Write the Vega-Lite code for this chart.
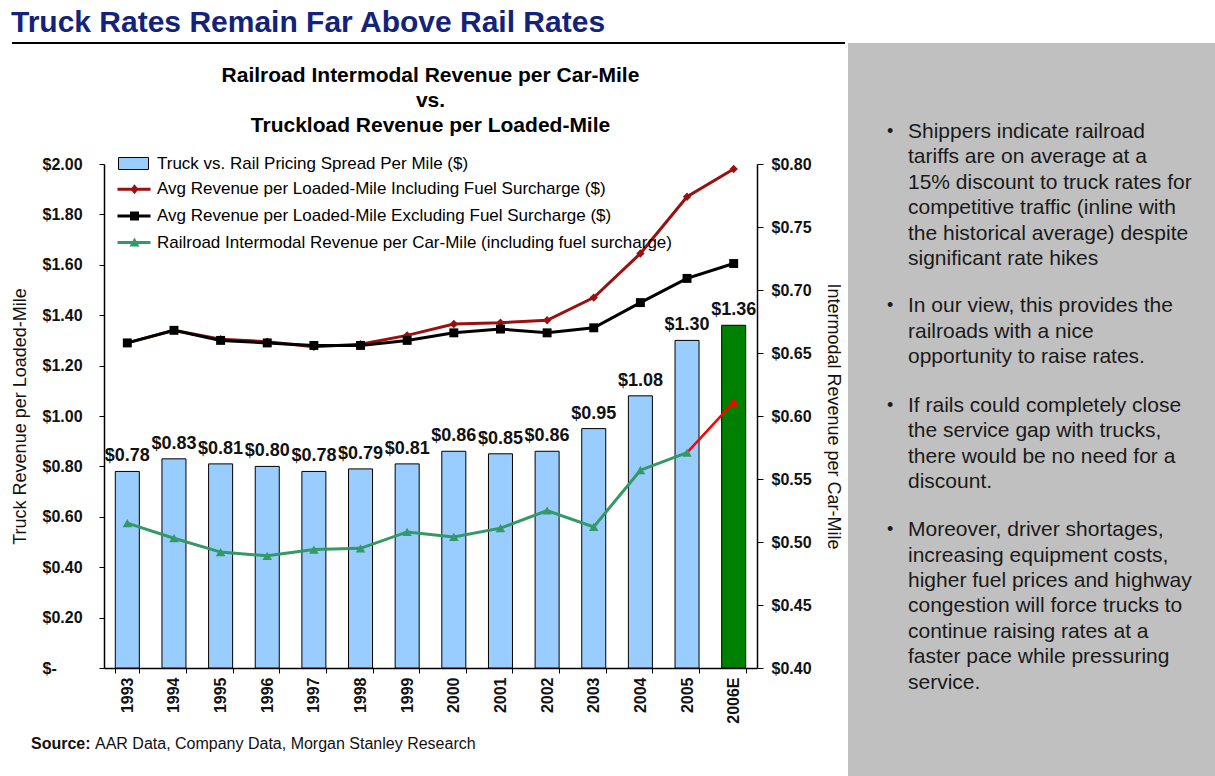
{
  "$schema": "https://vega.github.io/schema/vega-lite/v6.json",
  "padding": {"left": 10, "top": 8, "right": 0, "bottom": 0},
  "background": "white",
  "title": {"text": "Truck Rates Remain Far Above Rail Rates", "anchor": "start", "frame": "bounds", "fontSize": 30, "fontWeight": "bold", "color": "#13237A", "offset": 4},
  "spacing": 2,
  "resolve": {"scale": {"color": "independent", "shape": "independent", "fill": "independent"}},
  "config": {
    "font": "Liberation Sans",
    "view": {"stroke": null},
    "axis": {"domainColor": "#000", "tickColor": "#000", "labelColor": "#111", "titleColor": "#111", "grid": false},
    "legend": {"title": null, "orient": "none", "padding": 0, "labelFontSize": 17, "labelColor": "#000", "labelLimit": 700, "labelOffset": 25, "rowPadding": 8.7, "symbolSize": 100, "symbolOpacity": 1}
  },
  "datasets": {
    "rates": [
      {"year": "1993", "series": "Truck vs. Rail Pricing Spread Per Mile ($)", "value": 0.78},
      {"year": "1994", "series": "Truck vs. Rail Pricing Spread Per Mile ($)", "value": 0.83},
      {"year": "1995", "series": "Truck vs. Rail Pricing Spread Per Mile ($)", "value": 0.81},
      {"year": "1996", "series": "Truck vs. Rail Pricing Spread Per Mile ($)", "value": 0.80},
      {"year": "1997", "series": "Truck vs. Rail Pricing Spread Per Mile ($)", "value": 0.78},
      {"year": "1998", "series": "Truck vs. Rail Pricing Spread Per Mile ($)", "value": 0.79},
      {"year": "1999", "series": "Truck vs. Rail Pricing Spread Per Mile ($)", "value": 0.81},
      {"year": "2000", "series": "Truck vs. Rail Pricing Spread Per Mile ($)", "value": 0.86},
      {"year": "2001", "series": "Truck vs. Rail Pricing Spread Per Mile ($)", "value": 0.85},
      {"year": "2002", "series": "Truck vs. Rail Pricing Spread Per Mile ($)", "value": 0.86},
      {"year": "2003", "series": "Truck vs. Rail Pricing Spread Per Mile ($)", "value": 0.95},
      {"year": "2004", "series": "Truck vs. Rail Pricing Spread Per Mile ($)", "value": 1.08},
      {"year": "2005", "series": "Truck vs. Rail Pricing Spread Per Mile ($)", "value": 1.30},
      {"year": "2006E", "series": "Truck vs. Rail Pricing Spread Per Mile ($)", "value": 1.36},
      {"year": "1993", "series": "Avg Revenue per Loaded-Mile Including Fuel Surcharge ($)", "value": 1.29},
      {"year": "1994", "series": "Avg Revenue per Loaded-Mile Including Fuel Surcharge ($)", "value": 1.34},
      {"year": "1995", "series": "Avg Revenue per Loaded-Mile Including Fuel Surcharge ($)", "value": 1.305},
      {"year": "1996", "series": "Avg Revenue per Loaded-Mile Including Fuel Surcharge ($)", "value": 1.295},
      {"year": "1997", "series": "Avg Revenue per Loaded-Mile Including Fuel Surcharge ($)", "value": 1.275},
      {"year": "1998", "series": "Avg Revenue per Loaded-Mile Including Fuel Surcharge ($)", "value": 1.285},
      {"year": "1999", "series": "Avg Revenue per Loaded-Mile Including Fuel Surcharge ($)", "value": 1.32},
      {"year": "2000", "series": "Avg Revenue per Loaded-Mile Including Fuel Surcharge ($)", "value": 1.365},
      {"year": "2001", "series": "Avg Revenue per Loaded-Mile Including Fuel Surcharge ($)", "value": 1.37},
      {"year": "2002", "series": "Avg Revenue per Loaded-Mile Including Fuel Surcharge ($)", "value": 1.38},
      {"year": "2003", "series": "Avg Revenue per Loaded-Mile Including Fuel Surcharge ($)", "value": 1.47},
      {"year": "2004", "series": "Avg Revenue per Loaded-Mile Including Fuel Surcharge ($)", "value": 1.645},
      {"year": "2005", "series": "Avg Revenue per Loaded-Mile Including Fuel Surcharge ($)", "value": 1.87},
      {"year": "2006E", "series": "Avg Revenue per Loaded-Mile Including Fuel Surcharge ($)", "value": 1.98},
      {"year": "1993", "series": "Avg Revenue per Loaded-Mile Excluding Fuel Surcharge ($)", "value": 1.29},
      {"year": "1994", "series": "Avg Revenue per Loaded-Mile Excluding Fuel Surcharge ($)", "value": 1.34},
      {"year": "1995", "series": "Avg Revenue per Loaded-Mile Excluding Fuel Surcharge ($)", "value": 1.30},
      {"year": "1996", "series": "Avg Revenue per Loaded-Mile Excluding Fuel Surcharge ($)", "value": 1.29},
      {"year": "1997", "series": "Avg Revenue per Loaded-Mile Excluding Fuel Surcharge ($)", "value": 1.28},
      {"year": "1998", "series": "Avg Revenue per Loaded-Mile Excluding Fuel Surcharge ($)", "value": 1.28},
      {"year": "1999", "series": "Avg Revenue per Loaded-Mile Excluding Fuel Surcharge ($)", "value": 1.30},
      {"year": "2000", "series": "Avg Revenue per Loaded-Mile Excluding Fuel Surcharge ($)", "value": 1.33},
      {"year": "2001", "series": "Avg Revenue per Loaded-Mile Excluding Fuel Surcharge ($)", "value": 1.345},
      {"year": "2002", "series": "Avg Revenue per Loaded-Mile Excluding Fuel Surcharge ($)", "value": 1.33},
      {"year": "2003", "series": "Avg Revenue per Loaded-Mile Excluding Fuel Surcharge ($)", "value": 1.35},
      {"year": "2004", "series": "Avg Revenue per Loaded-Mile Excluding Fuel Surcharge ($)", "value": 1.45},
      {"year": "2005", "series": "Avg Revenue per Loaded-Mile Excluding Fuel Surcharge ($)", "value": 1.546},
      {"year": "2006E", "series": "Avg Revenue per Loaded-Mile Excluding Fuel Surcharge ($)", "value": 1.605},
      {"year": "1993", "series": "Railroad Intermodal Revenue per Car-Mile (including fuel surcharge)", "value": 0.515},
      {"year": "1994", "series": "Railroad Intermodal Revenue per Car-Mile (including fuel surcharge)", "value": 0.503},
      {"year": "1995", "series": "Railroad Intermodal Revenue per Car-Mile (including fuel surcharge)", "value": 0.492},
      {"year": "1996", "series": "Railroad Intermodal Revenue per Car-Mile (including fuel surcharge)", "value": 0.489},
      {"year": "1997", "series": "Railroad Intermodal Revenue per Car-Mile (including fuel surcharge)", "value": 0.494},
      {"year": "1998", "series": "Railroad Intermodal Revenue per Car-Mile (including fuel surcharge)", "value": 0.495},
      {"year": "1999", "series": "Railroad Intermodal Revenue per Car-Mile (including fuel surcharge)", "value": 0.508},
      {"year": "2000", "series": "Railroad Intermodal Revenue per Car-Mile (including fuel surcharge)", "value": 0.504},
      {"year": "2001", "series": "Railroad Intermodal Revenue per Car-Mile (including fuel surcharge)", "value": 0.511},
      {"year": "2002", "series": "Railroad Intermodal Revenue per Car-Mile (including fuel surcharge)", "value": 0.525},
      {"year": "2003", "series": "Railroad Intermodal Revenue per Car-Mile (including fuel surcharge)", "value": 0.512},
      {"year": "2004", "series": "Railroad Intermodal Revenue per Car-Mile (including fuel surcharge)", "value": 0.557},
      {"year": "2005", "series": "Railroad Intermodal Revenue per Car-Mile (including fuel surcharge)", "value": 0.571},
      {"year": "2006E", "series": "Railroad Intermodal Revenue per Car-Mile (including fuel surcharge)", "value": 0.611}
    ],
    "bullets": [
      {"startLine": 0, "text": "Shippers indicate railroad\ntariffs are on average at a\n15% discount to truck rates for\ncompetitive traffic (inline with\nthe historical average) despite\nsignificant rate hikes"},
      {"startLine": 7, "text": "In our view, this provides the\nrailroads with a nice\nopportunity to raise rates."},
      {"startLine": 11, "text": "If rails could completely close\nthe service gap with trucks,\nthere would be no need for a\ndiscount."},
      {"startLine": 16, "text": "Moreover, driver shortages,\nincreasing equipment costs,\nhigher fuel prices and highway\ncongestion will force trucks to\ncontinue raising rates at a\nfaster pace while pressuring\nservice."}
    ],
    "source": [
      {"label": "Source:", "text": "AAR Data, Company Data, Morgan Stanley Research"}
    ],
    "rule": [
      {"part": "title underline"}
    ]
  },
  "hconcat": [
    {
      "spacing": 0,
      "resolve": {"scale": {"color": "independent", "shape": "independent", "fill": "independent"}},
      "vconcat": [
        {
          "width": 741,
          "height": 22,
          "data": {"name": "rule"},
          "mark": {"type": "rule", "strokeWidth": 2, "color": "#000"},
          "encoding": {
            "x": {"datum": -0.1242, "type": "quantitative", "scale": {"domain": [0, 1], "nice": false, "zero": false}, "axis": null},
            "x2": {"datum": 1},
            "y": {"datum": 1, "type": "quantitative", "scale": {"domain": [0, 1]}, "axis": null}
          }
        },
        {
          "width": 653,
          "height": 504,
          "title": {"text": ["Railroad Intermodal Revenue per Car-Mile", "vs.", "Truckload Revenue per Loaded-Mile"], "fontSize": 21, "fontWeight": "bold", "lineHeight": 25, "anchor": "middle", "offset": 19, "color": "#000"},
          "data": {"name": "rates"},
          "encoding": {
            "x": {
              "field": "year", "type": "ordinal",
              "scale": {"paddingInner": 0.485, "paddingOuter": 0.2425},
              "axis": {"title": null, "labelAngle": -90, "labelFontSize": 16, "labelFontWeight": "bold", "tickBand": "extent", "tickSize": 5, "labelPadding": 4, "domainWidth": 1.5}
            }
          },
          "layer": [
            {
              "encoding": {
                "y": {
                  "field": "value", "type": "quantitative",
                  "scale": {"domain": [0, 2], "nice": false},
                  "axis": {"orient": "left", "values": [0, 0.2, 0.4, 0.6, 0.8, 1, 1.2, 1.4, 1.6, 1.8, 2], "labelExpr": "datum.value === 0 ? '$-' : format(datum.value, '$.2f')", "labelAlign": "left", "labelPadding": 57, "tickSize": 5, "minExtent": 62, "maxExtent": 62, "labelFontSize": 16, "labelFontWeight": "bold", "title": "Truck Revenue per Loaded-Mile", "titleFontSize": 18, "titleFontWeight": "normal", "titlePadding": 13, "domainWidth": 1.5}
                }
              },
              "layer": [
                {
                  "transform": [{"filter": {"field": "series", "equal": "Truck vs. Rail Pricing Spread Per Mile ($)"}}],
                  "mark": {"type": "bar", "stroke": "#000", "strokeWidth": 1},
                  "encoding": {
                    "fill": {
                      "condition": {"test": "datum.year === '2006E'", "value": "#008000"},
                      "field": "series", "type": "nominal",
                      "scale": {"domain": ["Truck vs. Rail Pricing Spread Per Mile ($)"], "range": ["#99CCFF"]},
                      "legend": {"legendX": 11, "legendY": -9, "symbolType": "M-1,-1.2H5V1.2H-1Z", "symbolStrokeColor": "#000", "symbolStrokeWidth": 1}
                    }
                  }
                },
                {
                  "transform": [{"filter": {"field": "series", "equal": "Truck vs. Rail Pricing Spread Per Mile ($)"}}],
                  "mark": {"type": "text", "baseline": "alphabetic", "dy": -10, "fontSize": 18, "fontWeight": "bold", "color": "#111"},
                  "encoding": {"text": {"field": "value", "type": "quantitative", "format": "$.2f"}}
                },
                {
                  "transform": [{"filter": {"field": "series", "equal": "Avg Revenue per Loaded-Mile Including Fuel Surcharge ($)"}}],
                  "mark": {"type": "line", "strokeWidth": 3, "color": "#9A1010"}
                },
                {
                  "transform": [{"filter": {"field": "series", "equal": "Avg Revenue per Loaded-Mile Excluding Fuel Surcharge ($)"}}],
                  "mark": {"type": "line", "strokeWidth": 3, "color": "#000000"}
                },
                {
                  "transform": [{"filter": {"field": "series", "equal": "Avg Revenue per Loaded-Mile Including Fuel Surcharge ($)"}}],
                  "mark": {"type": "point", "shape": "diamond", "filled": true, "opacity": 1, "size": 70, "color": "#9A1010"}
                },
                {
                  "transform": [{"filter": {"field": "series", "equal": "Avg Revenue per Loaded-Mile Excluding Fuel Surcharge ($)"}}],
                  "mark": {"type": "point", "shape": "square", "filled": true, "opacity": 1, "size": 80, "color": "#000000"}
                },
                {
                  "transform": [{"filter": {"field": "series", "oneOf": ["Avg Revenue per Loaded-Mile Including Fuel Surcharge ($)", "Avg Revenue per Loaded-Mile Excluding Fuel Surcharge ($)", "Railroad Intermodal Revenue per Car-Mile (including fuel surcharge)"]}}],
                  "mark": {"type": "point", "filled": true, "opacity": 0, "size": 100},
                  "encoding": {
                    "color": {
                      "field": "series", "type": "nominal",
                      "scale": {"domain": ["Avg Revenue per Loaded-Mile Including Fuel Surcharge ($)", "Avg Revenue per Loaded-Mile Excluding Fuel Surcharge ($)", "Railroad Intermodal Revenue per Car-Mile (including fuel surcharge)"], "range": ["#9A1010", "#000000", "#339966"]},
                      "legend": {"legendX": 11, "legendY": 16.7, "symbolStrokeWidth": 0}
                    },
                    "shape": {
                      "field": "series", "type": "nominal",
                      "scale": {"domain": ["Avg Revenue per Loaded-Mile Including Fuel Surcharge ($)", "Avg Revenue per Loaded-Mile Excluding Fuel Surcharge ($)", "Railroad Intermodal Revenue per Car-Mile (including fuel surcharge)"], "range": ["M-1.2,-0.3H5.4V0.3H-1.2Z M2.2,-1L3,0L2.2,1L1.4,0Z", "M-1.2,-0.3H5.4V0.3H-1.2Z M1.3,-0.9H3.1V0.9H1.3Z", "M-1.2,-0.3H5.4V0.3H-1.2Z M2.2,-1L3.2,0.8H1.2Z"]},
                      "legend": {"legendX": 11, "legendY": 16.7, "symbolStrokeWidth": 0}
                    }
                  }
                }
              ]
            },
            {
              "encoding": {
                "y": {
                  "field": "value", "type": "quantitative",
                  "scale": {"domain": [0.4, 0.8], "nice": false, "zero": false},
                  "axis": {"orient": "right", "values": [0.4, 0.45, 0.5, 0.55, 0.6, 0.65, 0.7, 0.75, 0.8], "format": "$.2f", "tickSize": 6, "labelPadding": 8, "minExtent": 56, "maxExtent": 56, "labelFontSize": 16, "labelFontWeight": "bold", "title": "Intermodal Revenue per Car-Mile", "titleFontSize": 18, "titleFontWeight": "normal", "titlePadding": 10, "domainWidth": 1.5}
                }
              },
              "layer": [
                {
                  "transform": [{"filter": {"field": "series", "equal": "Railroad Intermodal Revenue per Car-Mile (including fuel surcharge)"}}, {"filter": "datum.year !== '2006E'"}],
                  "mark": {"type": "line", "strokeWidth": 3, "color": "#339966"}
                },
                {
                  "transform": [{"filter": {"field": "series", "equal": "Railroad Intermodal Revenue per Car-Mile (including fuel surcharge)"}}, {"filter": {"field": "year", "oneOf": ["2005", "2006E"]}}],
                  "mark": {"type": "line", "strokeWidth": 2.5, "color": "#FF0000"}
                },
                {
                  "transform": [{"filter": {"field": "series", "equal": "Railroad Intermodal Revenue per Car-Mile (including fuel surcharge)"}}, {"filter": "datum.year !== '2006E'"}],
                  "mark": {"type": "point", "shape": "triangle-up", "filled": true, "opacity": 1, "size": 90, "color": "#339966"}
                },
                {
                  "transform": [{"filter": {"field": "series", "equal": "Railroad Intermodal Revenue per Car-Mile (including fuel surcharge)"}}, {"filter": "datum.year === '2006E'"}],
                  "mark": {"type": "point", "shape": "triangle-up", "filled": true, "opacity": 1, "size": 100, "color": "#FF0000"}
                }
              ]
            }
          ],
          "resolve": {"scale": {"y": "independent"}}
        },
        {
          "width": 741,
          "height": 25,
          "data": {"name": "source"},
          "encoding": {
            "x": {"datum": 0, "type": "quantitative", "scale": {"domain": [0, 1]}, "axis": null},
            "y": {"datum": 0, "type": "quantitative", "scale": {"domain": [0, 1]}, "axis": null}
          },
          "layer": [
            {"mark": {"type": "text", "align": "left", "baseline": "alphabetic", "fontWeight": "bold", "fontSize": 16, "dx": -73, "color": "#111"}, "encoding": {"text": {"field": "label"}}},
            {"mark": {"type": "text", "align": "left", "baseline": "alphabetic", "fontSize": 16, "dx": -9, "color": "#111"}, "encoding": {"text": {"field": "text"}}}
          ]
        }
      ]
    },
    {
      "width": 368,
      "height": 734,
      "view": {"fill": "#C0C0C0", "stroke": null},
      "data": {"name": "bullets"},
      "encoding": {
        "x": {"datum": 0, "type": "quantitative", "scale": {"domain": [0, 1]}, "axis": null},
        "y": {"field": "startLine", "type": "quantitative", "scale": {"domain": [-3.82, 25.68], "reverse": true, "nice": false, "zero": false}, "axis": null}
      },
      "layer": [
        {"mark": {"type": "text", "align": "left", "baseline": "alphabetic", "fontSize": 18, "dx": 39, "dy": -1, "color": "#1a1a1a"}, "encoding": {"text": {"value": "•"}}},
        {"mark": {"type": "text", "align": "left", "baseline": "alphabetic", "fontSize": 21, "lineHeight": 25.4, "lineBreak": "\n", "dx": 60, "color": "#1a1a1a"}, "encoding": {"text": {"field": "text"}}}
      ]
    }
  ]
}
